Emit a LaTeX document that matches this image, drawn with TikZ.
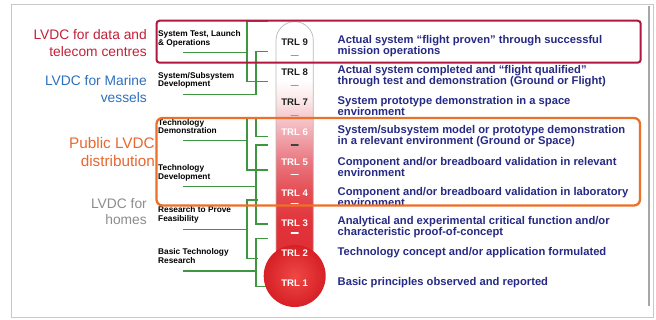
\documentclass[tikz,border=0pt]{standalone}
\usepackage{fontspec}
\setmainfont{Liberation Sans}
\definecolor{linkgreen}{RGB}{62,150,64}
\definecolor{descnavy}{RGB}{38,42,132}
\definecolor{redtext}{RGB}{196,32,56}
\definecolor{redbox}{RGB}{176,22,62}
\definecolor{bluetext}{RGB}{46,112,190}
\definecolor{orangetext}{RGB}{232,104,48}
\definecolor{orangebox}{RGB}{237,112,40}
\definecolor{greytext}{RGB}{140,140,140}
\definecolor{framegrey}{RGB}{200,200,200}
\definecolor{tubeA}{RGB}{250,228,230}
\definecolor{tubeB}{RGB}{242,175,182}
\definecolor{tubeC}{RGB}{234,120,128}
\definecolor{tubeD}{RGB}{228,78,84}
\definecolor{tubeE}{RGB}{224,52,58}
\definecolor{tubeF}{RGB}{222,42,48}
\definecolor{bulbin}{RGB}{238,72,70}
\definecolor{bulbout}{RGB}{214,32,38}
\definecolor{trldark}{RGB}{30,30,30}
% colour ramp of the thermometer tube, bottom (red) to top (white)
\pgfdeclareverticalshading{tubefill}{100bp}{%
  color(0bp)=(tubeF); color(25bp)=(tubeF); color(35.6bp)=(tubeE);
  color(41.7bp)=(tubeD); color(47.6bp)=(tubeC); color(53.5bp)=(tubeB);
  color(59.2bp)=(tubeA); color(63.5bp)=(white); color(100bp)=(white)}
\begin{document}
\begin{tikzpicture}[x=1pt,y=-1pt,
  conn/.style={draw=linkgreen, line width=1.3pt},
  stage/.style={anchor=west, align=left, inner sep=0pt, font=\bfseries\fontsize{8.3}{8.6}\selectfont},
  desc/.style={anchor=west, align=left, inner sep=0pt, text=descnavy, font=\bfseries\fontsize{11.2}{11}\selectfont},
  trl/.style={inner sep=0pt, font=\bfseries\fontsize{9.6}{9.6}\selectfont},
  usecase/.style={anchor=east, align=right, inner sep=0pt, font=\fontsize{13.8}{16.7}\selectfont},
  tick/.style={line width=1.1pt, line cap=round},
  groupbox/.style={line width=2pt}]

\useasboundingbox (0,0) rectangle (656,320);
\fill[white] (0,0) rectangle (656,320);
\draw[framegrey, line width=0.8pt] (11,4) rectangle (653,317);
\draw[gray!70, line width=1.2pt] (649,6) -- (649,306);

% ---------- development stages on the left ----------
\node[stage] (st1) at (158,38.6) {System Test, Launch\\\& Operations};
\node[stage] (st2) at (158,80.2) {System/Subsystem\\Development};
\node[stage] (st3) at (158,126.5) {Technology\\Demonstration};
\node[stage] (st4) at (158,172.8) {Technology\\Development};
\node[stage] (st5) at (158,214.8) {Research to Prove\\Feasibility};
\node[stage] (st6) at (158,256.2) {Basic Technology\\Research};

% start points of the stage leader lines
\coordinate (l1) at (183,52.3);
\coordinate (l2) at (183,94.3);
\coordinate (l3) at (183,140.7);
\coordinate (l4) at (183,186.7);
\coordinate (l5) at (183,229.3);
\coordinate (l6) at (183,271);

% ends of the brackets next to the tube
\coordinate (k1) at (267.7,21.7);
\coordinate (k2) at (267.7,81.7);
\coordinate (k3) at (267.7,51.7);
\coordinate (k4) at (267.7,170);
\coordinate (k5) at (267.7,136.7);
\coordinate (k6) at (267.7,145);
\coordinate (k7) at (267.7,224);
\coordinate (k8) at (258.3,200);
\coordinate (k9) at (258.3,258.3);
\coordinate (k10) at (267.7,238.3);
\coordinate (k11) at (267.7,286.7);
\coordinate (k12) at (256,118);
\coordinate (k13) at (247,118);

% ---------- green brackets ----------
\draw[conn] (k1) -- (247,21.7) -- (247,81.7) -- (k2);
\draw[conn] (l1) -- (247,52.3);
\draw[conn] (k3) -- (256,51.7) -- (256,94.3) -- (l2);
\draw[conn] (k13) -- (247,170) -- (k4);
\draw[conn] (l3) -- (247,140.7);
\draw[conn] (k12) -- (256,136.7) -- (k5);
\draw[conn] (k6) -- (256,145) -- (256,224) -- (k7);
\draw[conn] (l4) -- (256,186.7);
\draw[conn] (k8) -- (247,200) -- (247,258.3) -- (k9);
\draw[conn] (l5) -- (247,229.3);
\draw[conn] (k10) -- (256,238.3) -- (256,286.7) -- (k11);
\draw[conn] (l6) -- (256,271);

% ---------- thermometer ----------
\shade[shading=tubefill, rounded corners=18.6pt]
  (276,276) -- (276,21.7) -- (313.3,21.7) -- (313.3,276) -- cycle;
\draw[gray!55, line width=0.7pt, rounded corners=18.6pt]
  (276,250) -- (276,21.7) -- (313.3,21.7) -- (313.3,250);
\shade[inner color=bulbin, outer color=bulbout] (294.7,276) circle[radius=31];

\node[trl, text=trldark] (t9) at (294.7,41.7) {TRL 9};
\node[trl, text=trldark] (t8) at (294.7,71.9) {TRL 8};
\node[trl, text=trldark] (t7) at (294.7,102.1) {TRL 7};
\node[trl, text=white] (t6) at (294.7,132.3) {TRL 6};
\node[trl, text=white] (t5) at (294.7,162.5) {TRL 5};
\node[trl, text=white] (t4) at (294.7,192.7) {TRL 4};
\node[trl, text=white] (t3) at (294.7,222.9) {TRL 3};
\node[trl, text=white] (t2) at (294.7,253.1) {TRL 2};
\node[trl, text=white] (t1) at (294.7,283.3) {TRL 1};

% separators between the levels
\draw[tick, gray!80] (291.2,55.3) -- (298.2,55.3);
\draw[tick, gray!80] (291.2,85.5) -- (298.2,85.5);
\draw[tick, gray!80] (291.2,115.5) -- (298.2,115.5);
\draw[tick, black!75] (291.2,145) -- (298.2,145);
\draw[tick, white] (291.2,174.5) -- (298.2,174.5);
\draw[tick, white] (291.2,203.5) -- (298.2,203.5);
\draw[tick, white] (291.2,233) -- (298.2,233);

% ---------- level descriptions ----------
\node[desc] (d9) at (337.5,45.9) {Actual system “flight proven” through successful\\mission operations};
\node[desc] (d8) at (337.5,76.1) {Actual system completed and “flight qualified”\\through test and demonstration (Ground or Flight)};
\node[desc] (d7) at (337.5,106.3) {System prototype demonstration in a space\\environment};
\node[desc] (d6) at (337.5,136.5) {System/subsystem model or prototype demonstration\\in a relevant environment (Ground or Space)};
\node[desc] (d5) at (337.5,166.7) {Component and/or breadboard validation in relevant\\environment};
\node[desc] (d4) at (337.5,196.9) {Component and/or breadboard validation in laboratory\\environment};
\node[desc] (d3) at (337.5,227.1) {Analytical and experimental critical function and/or\\characteristic proof-of-concept};
\node[desc] (d2) at (337.5,252.3) {Technology concept and/or application formulated};
\node[desc] (d1) at (337.5,282.8) {Basic principles observed and reported};

% ---------- application labels ----------
\node[usecase, text=redtext] (u1) at (147,43.3) {LVDC for data and\\telecom centres};
\node[usecase, text=bluetext] (u2) at (147,88.8) {LVDC for Marine\\vessels};
\node[usecase, text=orangetext, font=\fontsize{15.3}{18.4}\selectfont] (u3) at (155,152.3) {Public LVDC\\distribution};
\node[usecase, text=greytext] (u4) at (147,211.7) {LVDC for\\homes};

% ---------- grouping frames ----------
\draw[groupbox, redbox, rounded corners=3pt] (156.5,20.7) rectangle (640.7,62.7);
\draw[groupbox, orangebox, line width=2.3pt, rounded corners=6pt] (156.5,118) rectangle (640,205.5);

\end{tikzpicture}
\end{document}
